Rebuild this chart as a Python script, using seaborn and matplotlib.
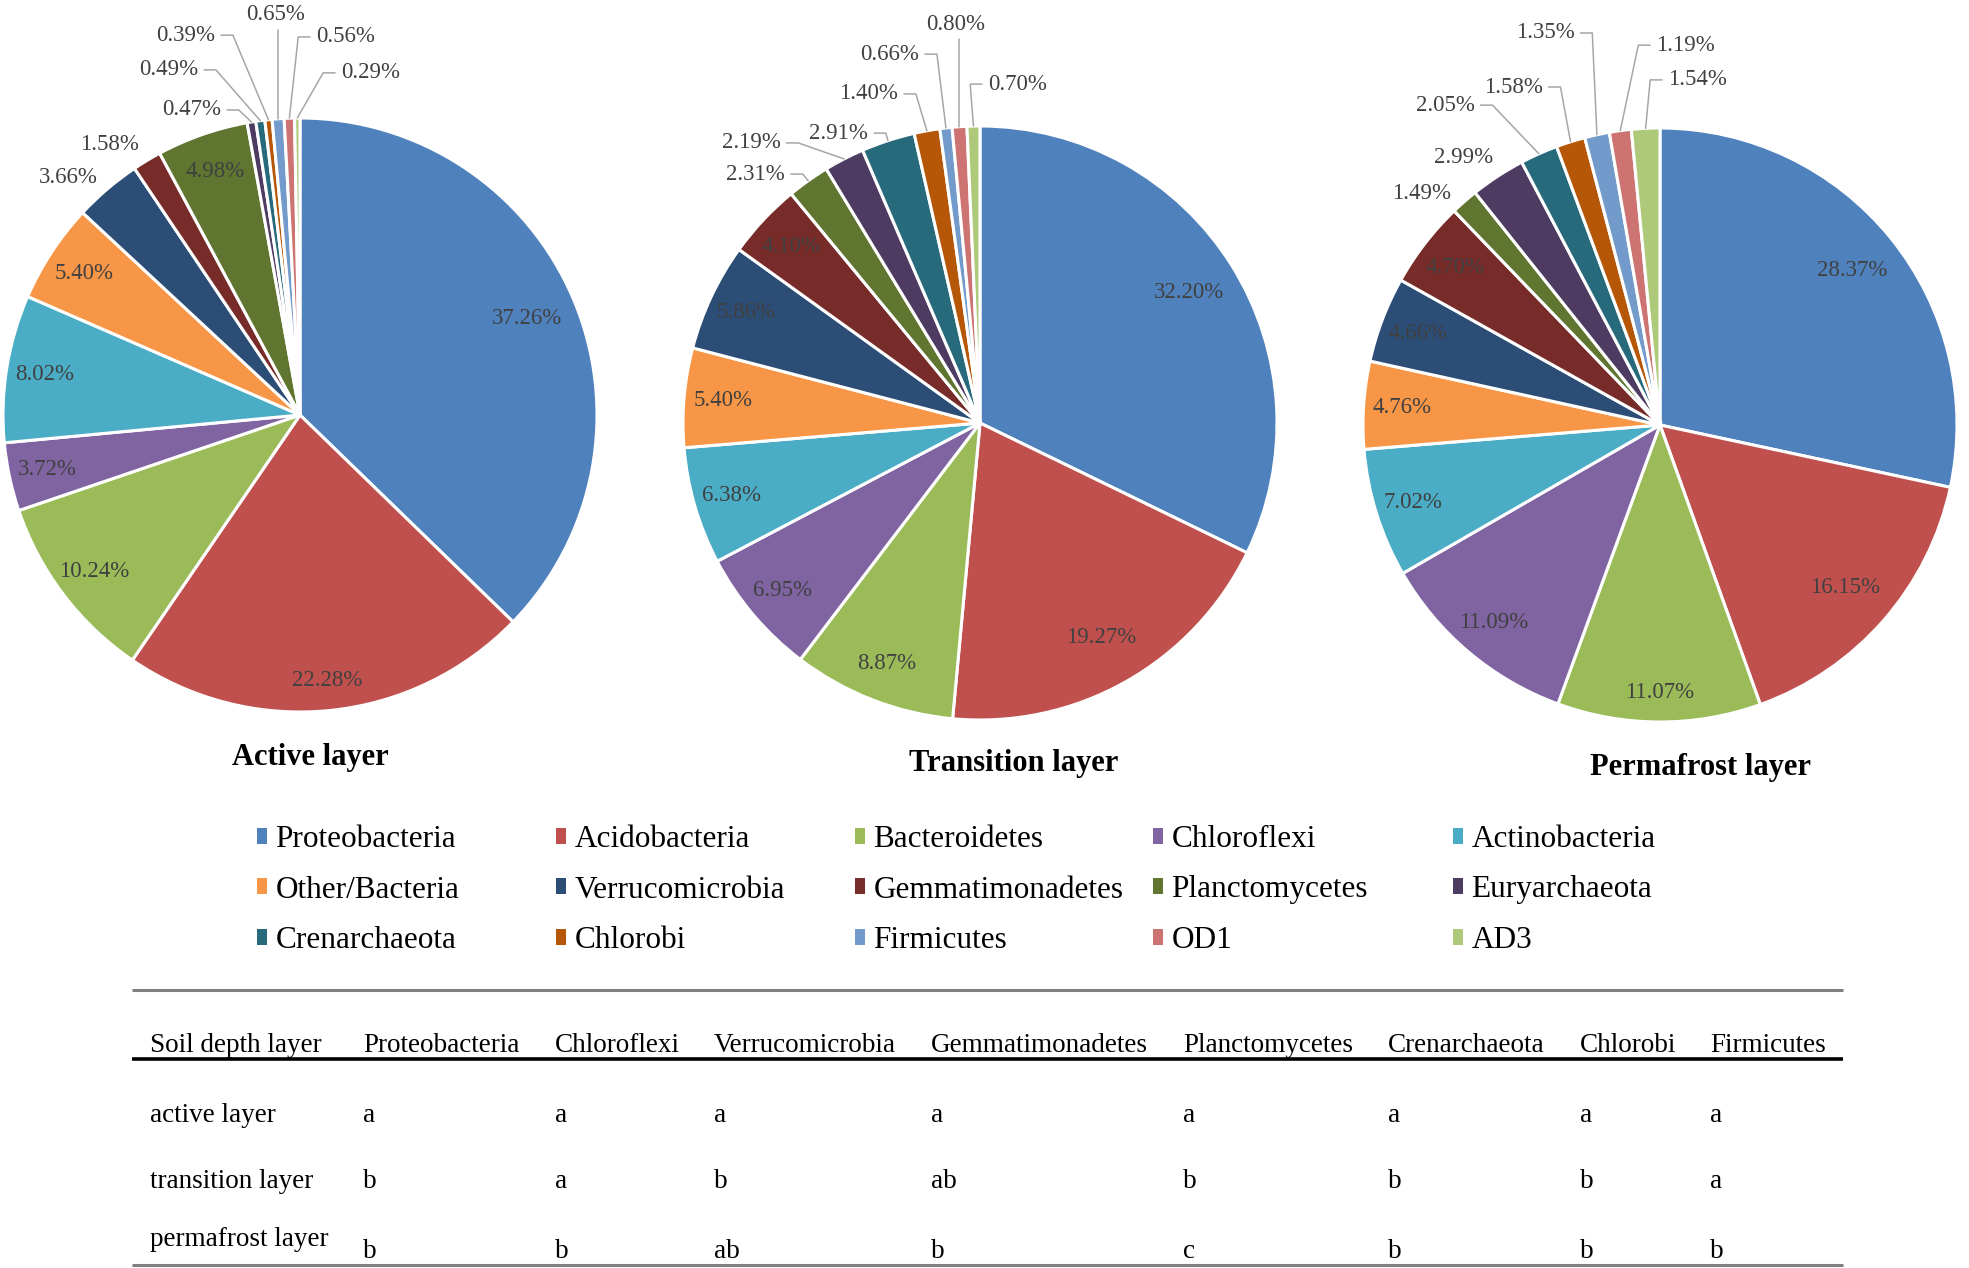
import numpy as np
import pandas as pd
import matplotlib
matplotlib.use("Agg")
import matplotlib.pyplot as plt
import seaborn as sns
from matplotlib.patches import Patch

# ---------------- data ----------------
phyla = ["Proteobacteria", "Acidobacteria", "Bacteroidetes", "Chloroflexi", "Actinobacteria",
         "Other/Bacteria", "Verrucomicrobia", "Gemmatimonadetes", "Planctomycetes", "Euryarchaeota",
         "Crenarchaeota", "Chlorobi", "Firmicutes", "OD1", "AD3"]
active = [37.26, 22.28, 10.24, 3.72, 8.02, 5.40, 3.66, 1.58, 4.98, 0.47, 0.49, 0.39, 0.65, 0.56, 0.29]
transition = [32.20, 19.27, 8.87, 6.95, 6.38, 5.40, 5.86, 4.10, 2.31, 2.19, 2.91, 1.40, 0.66, 0.80, 0.70]
permafrost = [28.37, 16.15, 11.07, 11.09, 7.02, 4.76, 4.66, 4.70, 1.49, 2.99, 2.05, 1.58, 1.35, 1.19, 1.54]
layer_titles = ["Active layer", "Transition layer", "Permafrost layer"]

table_header = ["Soil depth layer", "Proteobacteria", "Chloroflexi", "Verrucomicrobia",
                "Gemmatimonadetes", "Planctomycetes", "Crenarchaeota", "Chlorobi", "Firmicutes"]
table_rows = ["active layer", "transition layer", "permafrost layer"]
letters_active = ["a", "a", "a", "a", "a", "a", "a", "a"]
letters_transition = ["b", "a", "b", "ab", "b", "b", "b", "a"]
letters_permafrost = ["b", "b", "ab", "b", "c", "b", "b", "b"]

colors_hex = ["#4F81BD", "#C0504D", "#9BBB59", "#8064A2", "#4BACC6",
              "#F79646", "#2C4D75", "#772C2A", "#5F7530", "#4D3B62",
              "#276A7C", "#B65708", "#729ACA", "#CD7371", "#AFC97A"]

# ---------------- layout ----------------
W, H = 1969, 1268
pie_centers = [(300, 415), (980, 423), (1660, 425)]
R_PX = 297
title_pos = [(310, 757), (1014, 764), (1700, 767)]
# outside labels: index -> (x, y in radius units, leader mode)
outside = [
    {6: (-0.78, 0.80, "none"), 7: (-0.64, 0.91, "none"), 9: (-0.266, 1.027, "L"),
     10: (-0.343, 1.162, "L"), 11: (-0.286, 1.279, "L"), 12: (-0.081, 1.347, "T"),
     13: (0.054, 1.273, "R"), 14: (0.138, 1.152, "R")},
    {8: (-0.657, 0.838, "L"), 9: (-0.672, 0.943, "L"), 10: (-0.377, 0.976, "L"),
     11: (-0.276, 1.108, "L"), 12: (-0.205, 1.242, "L"), 13: (-0.081, 1.343, "T"),
     14: (0.027, 1.141, "R")},
    {8: (-0.802, 0.781, "none"), 9: (-0.663, 0.902, "none"), 10: (-0.624, 1.077, "L"),
     11: (-0.395, 1.138, "L"), 12: (-0.288, 1.320, "L"), 13: (-0.013, 1.279, "R"),
     14: (0.027, 1.162, "R")},
]
legend_x = [257, 556, 855, 1153, 1453]
legend_mid_y = 890
table_x = [150, 363, 555, 714, 931, 1183, 1388, 1580, 1710]
header_y = 1046
row_y = [1116, 1182, 1239]
row_val_y = [1116, 1182, 1251]

sns.set_theme(style="white")
plt.rcParams["font.family"] = ["Liberation Serif", "DejaVu Serif"]
plt.rcParams["text.color"] = "black"
palette = sns.color_palette(colors_hex)

fig = plt.figure(figsize=(W / 100, H / 100), dpi=100)

# overlay axes in pixel coords
ax0 = fig.add_axes([0, 0, 1, 1])
ax0.set_xlim(0, W)
ax0.set_ylim(H, 0)
ax0.axis("off")

LABEL_C = "#404040"
LINE_C = "#A6A6A6"
L = 1.6
for k, vals in enumerate([active, transition, permafrost]):
    cx, cy = pie_centers[k]
    ax = fig.add_axes([(cx - L * R_PX) / W, 1 - (cy + L * R_PX) / H,
                       2 * L * R_PX / W, 2 * L * R_PX / H])
    wedges, _ = ax.pie(vals, colors=palette, startangle=90, counterclock=False, radius=1,
                       wedgeprops=dict(edgecolor="white", linewidth=2.2))
    ax.set_xlim(-L, L)
    ax.set_ylim(-L, L)
    ax.set_aspect("equal")
    ax.axis("off")
    for i, w in enumerate(wedges):
        mid = np.deg2rad((w.theta1 + w.theta2) / 2)
        txt = f"{vals[i]:.2f}%"
        if i in outside[k]:
            x, y, mode = outside[k][i]
            ax_x, ax_y = np.cos(mid), np.sin(mid)
            if mode == "none":
                ax.text(x, y, txt, ha="center", va="center", fontsize=16.5, color=LABEL_C)
            elif mode == "L":
                ax.text(x, y, txt, ha="right", va="center", fontsize=16.5, color=LABEL_C)
                ax.plot([x + 0.02, x + 0.06, ax_x], [y, y, ax_y], color=LINE_C, lw=1.1)
            elif mode == "R":
                ax.text(x, y, txt, ha="left", va="center", fontsize=16.5, color=LABEL_C)
                ax.plot([x - 0.02, x - 0.06, ax_x], [y, y, ax_y], color=LINE_C, lw=1.1)
            else:
                ax.text(x, y, txt, ha="center", va="center", fontsize=16.5, color=LABEL_C)
                ax.plot([ax_x, ax_x], [y - 0.05, ax_y], color=LINE_C, lw=1.1)
        else:
            c = abs(np.cos(mid))
            if c < 0.2:
                d = 0.9
            elif vals[i] > 15:
                d = 0.83
            else:
                d = 0.87
            ax.text(d * np.cos(mid), d * np.sin(mid), txt, ha="center", va="center",
                    fontsize=16.5, color=LABEL_C)
    tx, ty = title_pos[k]
    ax0.text(tx, ty, layer_titles[k], ha="center", va="center", fontsize=22,
             fontweight="bold", color="black")

# legend: 5 columns, row-major order
handles = [Patch(facecolor=palette[i], edgecolor="none", label=phyla[i]) for i in range(len(phyla))]
for c in range(5):
    fig.legend(handles=[handles[c], handles[c + 5], handles[c + 10]],
               loc="center left", bbox_to_anchor=(legend_x[c] / W, 1 - legend_mid_y / H),
               frameon=False, fontsize=22.5, handlelength=0.33, handleheight=0.42,
               handletextpad=0.26, labelspacing=0.68, borderpad=0, borderaxespad=0,
               labelcolor="black")

# table
ax0.plot([132, 1843], [990, 990], color="#808080", lw=2.2, solid_capstyle="butt")
ax0.plot([132, 1843], [1059, 1059], color="black", lw=2.6, solid_capstyle="butt")
ax0.plot([132, 1843], [1265, 1265], color="#808080", lw=2.2, solid_capstyle="butt")
for j, h in enumerate(table_header):
    ax0.text(table_x[j], header_y, h, ha="left", va="center", fontsize=19.5, color="black")
for r, (name, letters) in enumerate(zip(table_rows, [letters_active, letters_transition, letters_permafrost])):
    ax0.text(table_x[0], row_y[r], name, ha="left", va="center", fontsize=19.5, color="black")
    for j, s in enumerate(letters):
        ax0.text(table_x[j + 1], row_val_y[r], s, ha="left", va="center", fontsize=19.5, color="black")

fig.savefig("out.png", dpi=100)
